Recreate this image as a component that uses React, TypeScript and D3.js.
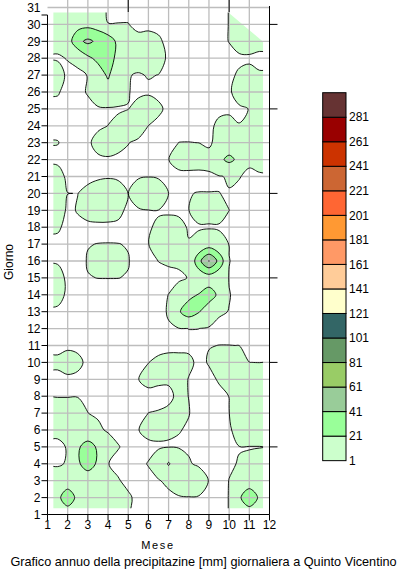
import React from "react";
import * as d3 from "d3";

// Column centres of the gridded field (month units) and day rows
const months = [1.5, 2, 2.5, 3, 3.5, 4, 4.5, 5, 5.5, 6, 6.5, 7, 7.5, 8, 8.5, 9, 9.5, 10, 10.5, 11, 11.5];
const days = [1, 2, 3, 4, 5, 6, 7, 8, 9, 10, 11, 12, 13, 14, 15, 16, 17, 18, 19, 20, 21, 22, 23, 24, 25, 26, 27, 28, 29, 30, 31];

// Daily precipitation field [mm], rows listed from day 31 (top) to day 1 (bottom)
const rainTopDown: number[][] = [
  [4, 4, 4, 4, 5, 0, 0, 0, 0, 0, 0, 0, 0, 0, 0, 0, 0, 1.1, 4, 4, 4],
  [4, 5, 13, 15, 12, 1.1, 1.1, 1.1, 0, 0, 0, 0, 0, 0, 0, 0, 0, 1.1, 4, 4, 4],
  [2.5, 11, 36, 45, 37, 33, 16, 3, 2.2, 2.6, 1.6, 0, 0, 0, 0, 0, 0, 1.1, 3.6, 4.5, 2.5],
  [0.5, 1.2, 2.4, 17, 26, 32, 14, 4, 4, 4, 3.3, 0, 0, 0, 0, 0, 0, 0, 0, 0, 0],
  [3.3, 0, 0, 1.14, 10.4, 24, 5, 1.3, 0.5, 1.35, 0.9, 0, 0, 0, 0, 0, 0, 0, 1.7, 2.9, 1.4],
  [1.3, 0, 0, 1.3, 7, 12, 7, 1.2, 0, 0, 0, 0, 0, 0, 0, 0, 0, 0, 4.2, 4, 4],
  [0, 0, 0, 0, 0, 0, 0, 0.9, 2.8, 5.3, 1.8, 0, 0, 0, 0, 0, 0, 0, 0, 1.15, 4],
  [0, 0, 0, 0, 0, 1.05, 3.3, 4, 4, 0.95, 0, 0, 0, 0, 0, 0, 2.0, 2.8, 1.2, 4, 4],
  [1.15, 0, 0, 0, 3, 5.5, 2.6, 1.15, 0, 0, 0, 0, 1.02, 1.05, 0.98, 0, 3.2, 10, 4, 4, 4],
  [0, 0, 0, 0, 0, 0, 0, 0, 0, 0, 0, 0.95, 2.5, 2.8, 2.6, 3.3, 17, 25, 17, 2, 4],
  [3, 0, 0, 0, 0, 0, 0, 0, 0.5, 0.9, 0.5, 0, 0, 0, 0, 0, 0.3, 2, 1.22, 0, 0],
  [4, 1.05, 0.95, 2.1, 4.8, 8.5, 4.2, 0.95, 4, 4, 4, 0.98, 0, 0.9, 1.1, 1.1, 1.08, 0.5, 0, 0, 0],
  [4.5, 0, 1.3, 2.7, 3.4, 3.3, 2.3, 0, 0.5, 0.94, 0.94, 0.5, 0, 0.9, 5, 5, 5, 1.02, 0, 0, 0],
  [1.55, 0, 0, 0, 0, 0, 0, 0, 0, 0.94, 1.1, 2.3, 2.6, 0.5, 0, 0, 0, 0, 0, 0, 0],
  [0, 0, 0, 0.9, 1.05, 1.08, 1.05, 0.88, 0, 0.9, 4, 4, 4, 1.28, 5, 10, 5, 0.8, 0, 0, 0],
  [0.5, 0, 0, 1.19, 5, 5, 5, 1.12, 0, 0, 1.05, 1.5, 2.0, 1.3, 35, 62, 35, 1.1, 0, 0, 0],
  [3, 0, 0, 0.9, 1.03, 1.04, 1.03, 0.88, 0, 0, 0, 0, 0, 1.26, 6, 10, 6, 0.8, 0, 0, 0],
  [3, 0, 0, 0, 0, 0, 0, 0, 0, 0, 0, 1.05, 4.2, 16.5, 22, 30, 17, 1.16, 0, 0, 0],
  [0, 0, 0, 0, 0, 0, 0, 0, 0, 0, 0, 1.3, 19, 30, 22, 10, 1.5, 0.9, 0, 0, 0],
  [0, 0, 0, 0, 0, 0, 0, 0, 0, 0, 0, 0.7, 0.5, 1.05, 1.02, 0, 0, 0, 0, 0, 0],
  [0, 0, 0, 0, 0, 0, 0, 0, 0, 0, 0, 0, 0, 0, 0, 0.9, 1.03, 1.03, 0.98, 0, 0],
  [1.8, 3.5, 2.1, 0, 0, 0, 0, 0, 0, 0.95, 1.7, 2.3, 2.3, 2, 0, 1.3, 4, 4, 4, 1.02, 0.95],
  [0, 0, 0, 0, 0, 0, 0, 0, 0.95, 2, 1.3, 1.3, 3, 0.8, 0, 0, 1.4, 4, 4, 4, 4],
  [0.9, 0.9, 0.9, 0, 0, 0, 0, 0, 0, 0, 0.5, 0.5, 1.5, 0.97, 0, 0, 0, 1.05, 4, 4, 4],
  [2.3, 2.3, 2.3, 1.05, 0, 0, 0, 0, 0, 1.02, 1.11, 1.46, 3, 1.1, 0, 0, 0, 0.95, 4, 4, 4],
  [2.1, 4, 4, 4, 2.5, 0, 0, 0, 0.9, 2.3, 2, 1.56, 1.14, 0.7, 0, 0, 0, 0, 4, 4, 4],
  [0, 1.3, 18, 30, 18, 6, 1.2, 0, 0, 0, 0.5, 0.6, 0.6, 0.5, 0, 0, 0, 0, 0.9, 0.9, 0.9],
  [0, 1.7, 18, 30, 18, 1.1, 0, 0, 0, 1.2, 4, 23, 6, 1.4, 0.3, 0, 0, 0.7, 1.14, 1.46, 2.3],
  [6, 12, 4, 8, 4, 4, 1.3, 0, 0, 0, 0.7, 2, 4, 4, 4, 0.8, 0, 1.05, 4, 13, 4],
  [17, 30, 17, 4, 4, 4, 4, 1.6, 0, 0, 0, 0, 0.6, 0.84, 0.63, 0, 0, 1.1, 19, 30, 19],
  [4, 12, 4, 4, 4, 4, 4, 1.2, 0, 0, 0, 0, 0, 0, 0, 0, 0, 1.1, 4, 13, 4],
];

// Extent of the gridded data (month, day)
const extentMonths = [1.29, 11.68];
const extentDays = [1.37, 30.7];
const blankCornerStart = [9.96, 30.7];
const blankCornerEnd = [11.68, 28.98];

// Legend classes
const breaks = [1, 21, 41, 61, 81, 101, 121, 141, 161, 181, 201, 221, 241, 261, 281];
const colors = [
  "#ccffcc", "#99ff99", "#99cc99", "#99cc66", "#669966", "#336666", "#ffffcc",
  "#ffcc99", "#ff9966", "#ff9933", "#ff6633", "#cc6633", "#cc3300", "#990000", "#663333",
];

const monthTicks = [1, 2, 3, 4, 5, 6, 7, 8, 9, 10, 11, 12];
const dayTicks = [1, 2, 3, 4, 5, 6, 7, 8, 9, 10, 11, 12, 13, 14, 15, 16, 17, 18, 19, 20, 21, 22, 23, 24, 25, 26, 27, 28, 29, 30];
const rightTicks = [5, 10, 15, 20, 25, 30];
const topTicks = [5, 10];

const FONT = "'Liberation Sans', Arial, Helvetica, sans-serif";

export default function App() {
  const x = d3.scaleLinear().domain([1, 12]).range([47.5, 269.5]);
  const y = d3.scaleLinear().domain([1, 31]).range([514.5, 7.5]);

  const grid = [...rainTopDown].reverse(); // index 0 = day 1
  const nx = months.length + 2;
  const ny = days.length + 2;
  const values: number[] = [];
  for (let r = 0; r < ny; r++) {
    const row = grid[Math.min(Math.max(r - 1, 0), days.length - 1)];
    for (let k = 0; k < nx; k++) {
      values.push(row[Math.min(Math.max(k - 1, 0), months.length - 1)]);
    }
  }
  const mStep = months[1] - months[0];
  const dStep = days[1] - days[0];
  const gxToMonth = (gx: number) => months[0] + (gx - 1.5) * mStep;
  const gyToDay = (gy: number) => days[0] + (gy - 1.5) * dStep;

  const contours = d3.contours().size([nx, ny]).thresholds(breaks)(values);
  const line = d3.line().curve(d3.curveCatmullRomClosed.alpha(0.5));
  const paths = contours.map((c: any) =>
    c.coordinates
      .flatMap((poly: number[][][]) =>
        poly.map((ring: number[][]) =>
          line(ring.slice(0, -1).map(([gx, gy]) => [x(gxToMonth(gx)), y(gyToDay(gy))] as [number, number]))
        )
      )
      .join("")
  );

  const clipPts = [
    [extentMonths[0], extentDays[0]],
    [extentMonths[1], extentDays[0]],
    [blankCornerEnd[0], blankCornerEnd[1]],
    [blankCornerStart[0], blankCornerStart[1]],
    [extentMonths[0], extentDays[1]],
  ]
    .map(([m, d]) => `${x(m)},${y(d)}`)
    .join(" ");

  const legendTop = 92.7;
  const legendH = 24.53;
  const legendX = 322.7;
  const legendW = 23.3;

  return (
    <svg width={400} height={578} style={{ display: "block", position: "absolute", left: 0, top: 0, background: "#fff" }}>
      <defs>
        <clipPath id="dataClip">
          <polygon points={clipPts} />
        </clipPath>
      </defs>
      <rect x={0} y={0} width={400} height={578} fill="#fff" />
      <g clipPath="url(#dataClip)">
        {paths.map((p: string, i: number) => (
          <path key={"f" + i} d={p} fill={colors[i]} fillRule="evenodd" stroke="none" />
        ))}
      </g>
      {/* grid */}
      <g stroke="#bdbdbd" strokeWidth={1.3}>
        {monthTicks.slice(1, -1).map((m) => (
          <line key={"gv" + m} x1={x(m)} x2={x(m)} y1={0} y2={y(1)} />
        ))}
        {days.slice(1).map((d) => (
          <line key={"gh" + d} x1={x(1)} x2={x(12)} y1={y(d)} y2={y(d)} />
        ))}
      </g>
      <g clipPath="url(#dataClip)">
        {paths.map((p: string, i: number) => (
          <path key={"s" + i} d={p} fill="none" stroke="#000" strokeWidth={0.9} />
        ))}
      </g>
      {/* axes */}
      <g stroke="#000" strokeWidth={1}>
        <line x1={x(1)} x2={x(1)} y1={15} y2={y(1)} />
        <line x1={x(1)} x2={x(12)} y1={y(1)} y2={y(1)} />
        <line x1={x(12)} x2={x(12)} y1={6} y2={y(1)} />
        {dayTicks.map((d) => (
          <line key={"yt" + d} x1={x(1) - 6} x2={x(1)} y1={y(d)} y2={y(d)} />
        ))}
        <line x1={x(1) - 6} x2={x(1)} y1={15} y2={15} />
        {monthTicks.map((m) => (
          <line key={"xt" + m} x1={x(m)} x2={x(m)} y1={y(1)} y2={y(1) + 6} />
        ))}
        {rightTicks.map((d) => (
          <line key={"rt" + d} x1={x(12)} x2={x(12) + 8} y1={y(d)} y2={y(d)} />
        ))}
        {topTicks.map((m) => (
          <line key={"tt" + m} x1={x(m)} x2={x(m)} y1={0} y2={12} />
        ))}
      </g>
      <g fontFamily={FONT} fontSize={12} fill="#000">
        {dayTicks.map((d) => (
          <text key={"yl" + d} x={x(1) - 7} y={y(d)} dy="0.35em" textAnchor="end">
            {d}
          </text>
        ))}
        <text x={x(1) - 7} y={y(31)} dy="0.35em" textAnchor="end">
          31
        </text>
        {monthTicks.map((m) => (
          <text key={"xl" + m} x={x(m)} y={525} dy="0.35em" textAnchor="middle">
            {m}
          </text>
        ))}
        <text x={158} y={545} dy="0.35em" textAnchor="middle" fontSize={11} letterSpacing={1.6}>
          Mese
        </text>
        <text transform="translate(9,262) rotate(-90)" dy="0.35em" textAnchor="middle" fontSize={12}>
          Giorno
        </text>
        <text x={203.5} y={562} dy="0.35em" textAnchor="middle" fontSize={12.7}>
          Grafico annuo della precipitazine [mm] giornaliera a Quinto Vicentino
        </text>
      </g>
      {/* legend */}
      <g>
        {colors.map((c, i) => {
          const top = legendTop + (colors.length - 1 - i) * legendH;
          return (
            <rect key={"lg" + i} x={legendX} y={top} width={legendW} height={legendH} fill={c} stroke="#000" strokeWidth={1} />
          );
        })}
        {breaks.map((b, i) => (
          <text
            key={"ll" + b}
            x={legendX + legendW + 3}
            y={legendTop + (colors.length - i) * legendH}
            dy="0.35em"
            fontFamily={FONT}
            fontSize={12}
          >
            {b}
          </text>
        ))}
      </g>
    </svg>
  );
}
